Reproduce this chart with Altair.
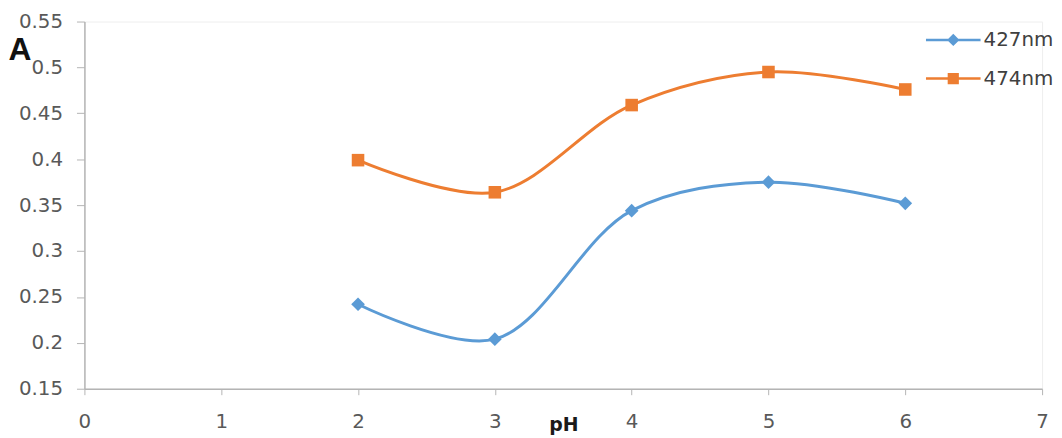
import altair as alt
import pandas as pd

# ---- data ----
ph = [2, 3, 4, 5, 6]
a_427 = [0.242, 0.204, 0.344, 0.375, 0.352]
a_474 = [0.399, 0.364, 0.459, 0.495, 0.476]
series_names = ["427nm", "474nm"]
series_colors = ["#5b9bd5", "#ed7d31"]
series_shapes = ["diamond", "square"]
x_ticks = [0, 1, 2, 3, 4, 5, 6, 7]
y_ticks = [0.15, 0.2, 0.25, 0.3, 0.35, 0.4, 0.45, 0.5, 0.55]

df = pd.DataFrame({
    "pH": ph + ph,
    "A": a_427 + a_474,
    "series": [series_names[0]] * len(ph) + [series_names[1]] * len(ph),
})

FONT = "DejaVu Sans"
AXIS_GRAY = "#b4b4b4"
LABEL_GRAY = "#595959"

x = alt.X(
    "pH:Q",
    scale=alt.Scale(domain=[0, 7], nice=False, zero=False),
    axis=alt.Axis(
        values=x_ticks, title="pH", grid=False, tickSize=6, labelPadding=17, labelFlush=False,
        labelFontSize=20, labelFont=FONT, labelColor=LABEL_GRAY,
        domainColor=AXIS_GRAY, tickColor=AXIS_GRAY, domainWidth=1.5, tickWidth=1,
        titleFont=FONT, titleFontSize=19, titleFontWeight="bold", titleColor="#1a1a1a",
        titleAnchor="start", titleAlign="left", titleBaseline="alphabetic",
        titleX=468, titleY=42,
    ),
)
y = alt.Y(
    "A:Q",
    scale=alt.Scale(domain=[0.15, 0.55], nice=False, zero=False),
    axis=alt.Axis(
        values=y_ticks, format=".2~f", title="A", grid=False, tickSize=8, labelPadding=14,
        labelFlush=False,
        labelFontSize=20, labelFont=FONT, labelColor=LABEL_GRAY,
        domainColor=AXIS_GRAY, tickColor=AXIS_GRAY, domainWidth=1.5, tickWidth=1,
        titleFont="Liberation Sans", titleFontSize=32, titleFontWeight="bold", titleColor="#111111",
        titleAngle=0, titleAnchor="start", titleAlign="left", titleBaseline="alphabetic",
        titleX=-77, titleY=38,
    ),
)

layers = []
marker_sizes = {"diamond": 190, "square": 160}
for name, col, shp in zip(series_names, series_colors, series_shapes):
    base = alt.Chart(df).transform_filter(alt.datum.series == name)
    layers.append(base.mark_line(interpolate="catmull-rom", strokeWidth=3, color=col).encode(x=x, y=y))
    layers.append(base.mark_point(shape=shp, filled=True, size=marker_sizes[shp], opacity=1, color=col).encode(x=x, y=y))

# legend glyphs: line segment with marker (unit coords, scaled by sqrt(symbolSize)/2)
legend_paths = [
    "M-2.2,-0.1L2.2,-0.1L2.2,0.1L-2.2,0.1Z M0,-0.5L0.5,0L0,0.5L-0.5,0Z",
    "M-2.2,-0.1L2.2,-0.1L2.2,0.1L-2.2,0.1Z M-0.45,-0.45L0.45,-0.45L0.45,0.45L-0.45,0.45Z",
]
leg = alt.Legend(
    title=None, orient="none", legendX=863, legendY=6, padding=0,
    symbolSize=625, symbolStrokeWidth=0, symbolOpacity=1,
    labelFont=FONT, labelFontSize=20,
    labelColor="#404040", labelOffset=18, rowPadding=16,
)
legend_layer = alt.Chart(df).transform_filter(alt.datum.pH < 0).mark_point(filled=True).encode(
    x=x, y=y,
    color=alt.Color("series:N", scale=alt.Scale(domain=series_names, range=series_colors), legend=leg),
    shape=alt.Shape("series:N", scale=alt.Scale(domain=series_names, range=legend_paths), legend=leg),
)
layers.append(legend_layer)

chart = alt.layer(*layers).properties(
    width=965, height=370,
    autosize=alt.AutoSizeParams(type="none"),
    padding={"left": 77, "top": 12, "right": 12, "bottom": 48},
).configure_view(stroke="#eeeeee")

chart.save("out.html", embed_options={"renderer": "svg", "actions": False})
